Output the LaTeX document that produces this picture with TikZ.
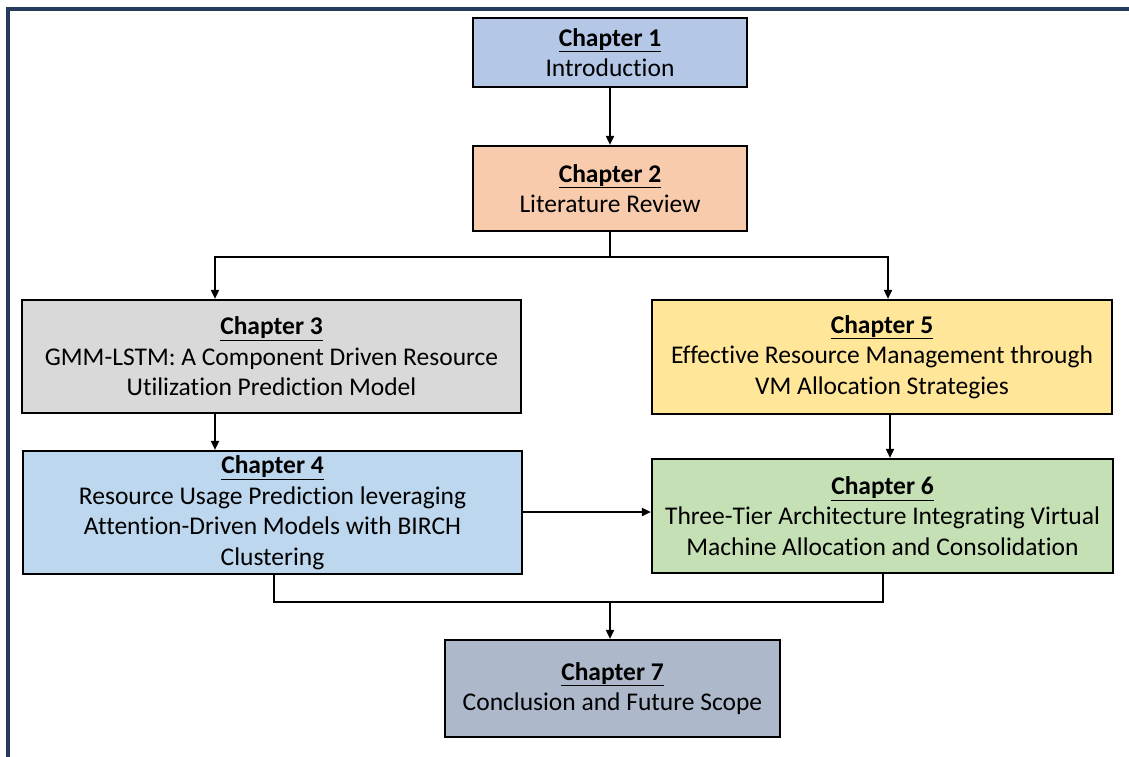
\documentclass[tikz,border=0pt]{standalone}
\usepackage{fontspec}
\setmainfont{Carlito}[Ligatures=NoCommon]
\usetikzlibrary{arrows.meta}
\definecolor{frame}{RGB}{38,58,92}
\definecolor{c1}{HTML}{B4C7E7}
\definecolor{c2}{HTML}{F8CBAD}
\definecolor{c3}{HTML}{D9D9D9}
\definecolor{c4}{HTML}{BDD7EE}
\definecolor{c5}{HTML}{FFE699}
\definecolor{c6}{HTML}{C5E0B4}
\definecolor{c7}{HTML}{ADB9CA}
\newcommand{\chap}[1]{\textbf{\underline{Chapter #1}}}
\tikzset{
  chbox/.style={draw=black, line width=2.2pt, align=center, inner sep=0pt,
    font=\fontsize{25.5}{30.5}\selectfont},
  conn/.style={line width=1.8pt, draw=black},
  arr/.style={conn, -{Triangle[length=9pt,width=8pt]}},
}
\begin{document}
\begin{tikzpicture}[x=1pt,y=-1pt]
\useasboundingbox[fill=white] (0,0) rectangle (1129,756);
\draw[frame, line width=3.2pt] (8,760) -- (8,9) -- (1135,9);

\node[chbox, fill=c1, minimum width=274pt, minimum height=69pt] (n1) at (610,52.5)
  {\chap{1}\\Introduction};
\node[chbox, fill=c2, minimum width=274pt, minimum height=85pt] (n2) at (610,188.5)
  {\chap{2}\\Literature Review};
\node[chbox, fill=c3, minimum width=499pt, minimum height=113pt] (n3) at (271.5,356.5)
  {\chap{3}\\GMM-LSTM: A Component Driven Resource\\Utilization Prediction Model};
\node[chbox, fill=c5, minimum width=460pt, minimum height=114pt] (n5) at (882,357)
  {\chap{5}\\Effective Resource Management through\\VM Allocation Strategies};
\node[chbox, fill=c4, minimum width=499pt, minimum height=123pt] (n4) at (272.5,512.5)
  {\chap{4}\\Resource Usage Prediction leveraging\\Attention-Driven Models with BIRCH\\Clustering};
\node[chbox, fill=c6, minimum width=461pt, minimum height=114pt] (n6) at (882.5,516)
  {\chap{6}\\Three-Tier Architecture Integrating Virtual\\Machine Allocation and Consolidation};
\node[chbox, fill=c7, minimum width=335pt, minimum height=97pt] (n7) at (612.5,688.5)
  {\chap{7}\\Conclusion and Future Scope};

\coordinate (s2) at (610,257);
\coordinate (s7) at (610,602);

\draw[arr] (n1.south) -- (n2.south |- n2.north);
\draw[conn] (n2.south) -- (s2);
\draw[arr] (s2) -| (215,0 |- n3.north);
\draw[arr] (s2) -| (888,0 |- n5.north);
\draw[arr] (215,0 |- n3.south) -- (215,0 |- n4.north);
\draw[arr] (890,0 |- n5.south) -- (890,0 |- n6.north);
\draw[arr] (n4.east |- 0,512) -- (n6.west |- 0,512);
\draw[conn] (274,0 |- n4.south) |- (s7);
\draw[conn] (883,0 |- n6.south) |- (s7);
\draw[arr] (s7) -- (n7.north -| s7);
\end{tikzpicture}
\end{document}
